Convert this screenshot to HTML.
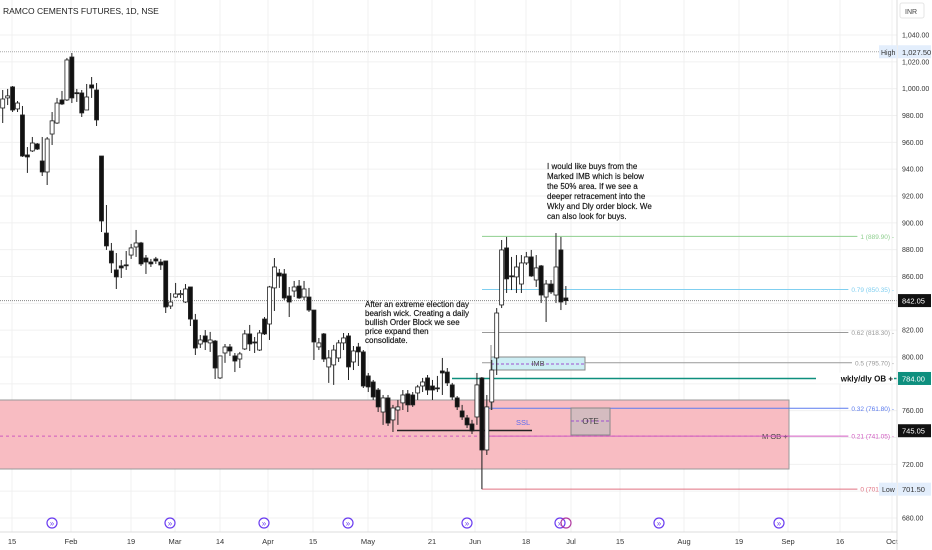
<!DOCTYPE html>
<html><head><meta charset="utf-8"><style>
body{margin:0;background:#fff;width:932px;height:550px;overflow:hidden;font-family:"Liberation Sans",sans-serif}
svg{display:block}
</style></head><body>
<svg id="chart" width="932" height="550" xmlns="http://www.w3.org/2000/svg" font-family="Liberation Sans, sans-serif"></svg>
<script>
// ---- data ----
const opens=[985.6,993.1,1001.3,984.9,980.4,950.6,953.6,958.8,946.1,937.9,966.2,974.4,991.6,991.6,1023.6,997,996.8,984.1,1002.8,999.0,949.8,892.4,879.0,864.9,867.9,868.7,876.0,882.0,885.0,873.8,870.8,873.1,870.8,871.6,838.0,844.7,846.8,841.0,852.2,827.6,809.7,815.7,810.5,811.9,784.4,803.0,807.5,800.8,798.5,806.0,817.2,811.2,805.2,828.3,824.6,851.5,862.6,861.9,845.5,849.2,852.9,844.7,844.7,835.0,807.5,817.2,792.6,794.1,799.3,810.5,815.7,796.3,807.5,803.8,785.9,781.4,775.4,759.0,769.5,753.1,760.5,765.8,772.5,771.7,773.2,778.4,784.4,778.4,777.0,789.6,788.8,779.2,769.5,759.8,754.6,750.1,755.3,784.4,730.7,766.5,799.3,838.8,881.3,860.5,859.7,854.4,870.1,874.6,857.4,867.9,844.7,854.4,846.2,879.8,844.0];
const highs=[999.0,999.8,1002.0,990.8,987.1,956.5,964.0,959.5,964.0,964.0,982.6,993.1,998.3,1022.9,1026.6,999.8,999.0,1003.5,1008.7,1004.2,949.8,913.3,885.0,877.5,872.3,879.0,884.3,894.7,885.8,876.0,873.1,874.6,873.1,871.6,847.7,855.2,849.9,854.4,852.2,832.1,816.4,820.1,818.7,812.7,800.8,809.7,809.7,803.0,803.8,820.1,823.9,814.9,820.1,829.8,853.0,873.8,865.6,865.6,852.2,856.7,857.4,856.7,851.5,835.0,814.2,817.9,805.2,809.0,812.7,817.9,817.9,808.2,810.5,805.2,788.1,782.9,776.9,771.7,771.7,764.3,768.0,775.4,775.4,773.9,779.2,784.4,786.6,782.9,785.9,799.3,791.8,780.7,770.9,764.3,756.8,753.1,788.1,785.1,771.7,797.8,836.5,887.2,889.5,874.6,876.0,876.0,878.3,879.8,876.0,868.6,857.4,857.4,892.4,889.5,852.9];
const lows=[974.4,987.8,982.6,982.6,949.1,937.2,952.8,954.3,934.9,928.2,958.0,973.7,987.8,990.8,989.3,990.1,978.9,984.1,993.1,972.2,893.2,879.8,862.6,850.7,858.9,864.9,873.1,874.6,867.9,861.9,867.1,869.4,864.9,832.8,835.8,844.0,844.0,840.3,823.1,801.5,806.7,805.2,803.8,783.6,783.6,795.6,800.8,788.8,791.8,805.2,804.5,803.0,804.5,816.4,812.7,834.3,851.5,842.5,829.8,844.7,843.3,842.5,833.6,797.8,805.2,796.3,780.7,779.2,796.3,805.2,782.9,790.3,793.3,776.9,773.9,768.0,759.0,749.4,748.6,744.1,749.4,760.5,759.0,762.8,768.0,773.9,771.7,768.0,773.9,771.7,778.4,768.0,760.5,753.1,747.1,742.6,749.4,701.5,727.0,760.5,786.6,836.5,847.7,849.9,847.7,847.7,868.6,859.7,852.2,840.3,826.1,847.0,840.3,835.0,838.8];
const closes=[992.3,994.6,984.1,989.3,949.8,949.1,959.5,955.0,937.9,962.5,976.0,989.3,988.6,1021.4,993.1,996.8,981.9,993.8,1000.5,976.7,901.4,882.8,870.1,859.7,866.4,868.6,881.3,885.0,869.4,870.8,869.4,871.6,868.6,837.3,841.0,847.0,847.2,850.7,828.3,806.7,812.7,811.2,812.7,791.8,800.8,807.5,804.5,797.0,802.3,817.2,809.7,811.0,817.9,817.2,852.2,867.1,860.4,844.0,841.0,852.2,844.0,850.7,835.0,811.2,810.5,798.5,799.3,805.2,810.5,814.2,792.6,804.5,803.8,778.4,777.7,770.2,762.8,769.5,750.8,762.0,762.8,771.7,764.3,764.3,777.7,781.4,775.4,775.4,776.9,788.1,780.7,770.2,762.8,755.3,749.4,744.9,779.2,730.7,762.8,790.3,832.8,879.8,858.2,860.4,867.1,870.1,874.6,860.4,866.4,846.2,854.4,848.5,867.1,841.0,842.0];
const yTicks=[1040,1020,1000,980,960,940,920,900,880,860,820,800,760,720,680];
const xLabels=["15","Feb","19","Mar","14","Apr","15","May","21","Jun","18","Jul","15","Aug","19","Sep","16","Oct"];
const xLabelPos=[12,71,131,175,220,268,313,368,432,475,526,571,620,684,739,788,840,892];
const fibLevels=[889.90,850.35,818.30,795.70,761.80,741.05,701.50];
const fibRatios=["1","0.79","0.62","0.5","0.32","0.21","0"];
const fibColors=["#8fcf8f","#80cff0","#999","#999","#5b7bef","#d05ac0","#e07080"];

// ---- scales ----
const Y=v=>35+(1040-v)*1.3417;
const X=i=>2.7+4.94*i;
const NS="http://www.w3.org/2000/svg";
const svg=document.getElementById('chart');
function el(tag,attrs,parent){const e=document.createElementNS(NS,tag);for(const k in attrs)e.setAttribute(k,attrs[k]);(parent||svg).appendChild(e);return e;}
function txt(s,attrs,parent){const e=el('text',attrs,parent);e.textContent=s;return e;}

// grid
const grid=el('g',{});


for(let v=1040;v>=680;v-=20){el('line',{x1:0,x2:897,y1:Y(v),y2:Y(v),stroke:'#f0f0f0','stroke-width':1},grid);}
xLabelPos.forEach(x=>el('line',{x1:x,x2:x,y1:0,y2:532,stroke:'#f0f0f0','stroke-width':1},grid));

// title
const t=txt('RAMCO CEMENTS FUTURES, 1D, NSE',{x:3,y:14,'font-size':8.5,fill:'#222'});



// pink M OB zone
const zone=el('rect',{x:-1,y:400,width:790,height:69,fill:'#f8bcc2',stroke:'#999','stroke-width':1});


el('line',{x1:0,x2:789,y1:Y(741.05),y2:Y(741.05),stroke:'#d05ac0','stroke-dasharray':'3,3','stroke-width':1});
const mob=txt('M OB +',{x:762,y:Y(741.05)+3,'font-size':7.5,fill:'#444'});



// high / current lines
el('line',{x1:0,x2:897,y1:Y(1027.5),y2:Y(1027.5),stroke:'#aaa','stroke-dasharray':'1,1'});
el('line',{x1:0,x2:897,y1:Y(842.05),y2:Y(842.05),stroke:'#888','stroke-dasharray':'1,1'});

// fib lines
const fib=el('g',{});


fibLevels.forEach((v,k)=>{
  const y=Y(v);
  const lb=txt(fibRatios[k]+' ('+v.toFixed(2)+') -',{x:894,y:y+2.5,'font-size':6.5,fill:fibColors[k],'text-anchor':'end'},fib);
  
  
  let w=48;
  try{w=lb.getComputedTextLength();}catch(e){}
  const ln=el('line',{x1:482,x2:894-w-3,y1:y,y2:y,stroke:fibColors[k],'stroke-width':1},fib);
  
  
});
el('line',{x1:482,x2:482,y1:430,y2:489,stroke:'#888','stroke-width':1});

// IMB box
const imb=el('rect',{x:491,y:357,width:94,height:13,fill:'#cdeef4',stroke:'#888','stroke-width':1});


el('line',{x1:491,x2:585,y1:364,y2:364,stroke:'#a050d0','stroke-dasharray':'3,2'});
const imbT=txt('IMB',{x:538,y:366,'font-size':7.5,fill:'#555','text-anchor':'middle'});


el('line',{x1:491,x2:491,y1:345,y2:410,stroke:'#888'});

// OTE box
const ote=el('rect',{x:571,y:408,width:39,height:27,fill:'#d4bcc0',stroke:'#888','stroke-width':1});


el('line',{x1:571,x2:610,y1:421,y2:421,stroke:'#a050d0','stroke-dasharray':'3,2'});
const oteT=txt('OTE',{x:590.5,y:424,'font-size':8,fill:'#444','text-anchor':'middle'});



// wkly/dly OB line
const ob=el('line',{x1:452,x2:897,y1:Y(784),y2:Y(784),stroke:'#0e8f7e','stroke-width':1.5});


el('rect',{x:816,y:Y(784)-6,width:78,height:11,fill:'#fff'});
const obT=txt('wkly/dly OB +',{x:893,y:Y(784)+3,'font-size':8,'font-weight':'bold',fill:'#111','text-anchor':'end'});



// SSL line
const ssl=el('line',{x1:397,x2:532,y1:430.5,y2:430.5,stroke:'#222','stroke-width':1.6});


const sslT=txt('SSL',{x:516,y:425,'font-size':7.5,fill:'#5b6bef'});



// candles
const cg=el('g',{});


opens.forEach((o,i)=>{
  const c=closes[i],x=X(i);
  const g=el('g',{},cg);
  
  
  el('line',{x1:x,x2:x,y1:Y(highs[i]),y2:Y(lows[i]),stroke:'#222','stroke-width':1},g);
  const top=Y(Math.max(o,c)),bot=Y(Math.min(o,c));
  el('rect',{x:x-2,y:top,width:4,height:Math.max(1,bot-top),fill:c>=o?'#fff':'#111',stroke:'#222','stroke-width':0.8},g);
});

// annotations
function multi(lines,x,y,lh,name){
  const g=el('g',{});
  
  
  lines.forEach((s,k)=>txt(s,{x:x,y:y+k*lh,'font-size':8,fill:'#111','stroke':'#111','stroke-width':0.15},g));
}
multi(["After an extreme election day","bearish wick. Creating a daily","bullish Order Block we see","price expand then","consolidate."],365,307,9,'election-note');
multi(["I would like buys from the","Marked IMB which is below","the 50% area. If we see a","deeper retracement into the","Wkly and Dly order block. We","can also look for buys."],547,169,10,'buy-plan-note');

// event icons
const iconXs=[52,170,264,348,467,560,659,779];
iconXs.forEach(x=>{
  const g=el('g',{});
  
  
  el('circle',{cx:x,cy:523,r:5,fill:'#fff',stroke:'#6a3cf0','stroke-width':1.2},g);
  txt('»',{x:x,y:526,'font-size':8,fill:'#6a3cf0','text-anchor':'middle'},g);
});
el('circle',{cx:566,cy:523,r:5,fill:'none',stroke:'#b03aa0','stroke-width':1.2});

// x axis
el('line',{x1:0,x2:897,y1:532,y2:532,stroke:'#ddd'});
xLabels.forEach((s,k)=>{
  const l=txt(s,{x:xLabelPos[k],y:544,'font-size':7.5,fill:'#333','text-anchor':'middle'});
  
  
});

// price axis
el('line',{x1:897,x2:897,y1:0,y2:550,stroke:'#ddd'});
const inr=el('rect',{x:900,y:3,width:24,height:15,rx:2,fill:'#fff',stroke:'#e5e5e5'});


txt('INR',{x:905,y:14,'font-size':7,fill:'#444'});
yTicks.forEach(v=>{
  const l=txt(v.toLocaleString('en-US',{minimumFractionDigits:2}),{x:902,y:Y(v)+2.5,'font-size':7,fill:'#333'});
  
  
});
function tag(v,label,bg,fg,name){
  const g=el('g',{});
  
  
  el('rect',{x:898,y:Y(v)-6.5,width:33,height:13,fill:bg},g);
  txt(label,{x:902,y:Y(v)+3,'font-size':7.5,fill:fg},g);
}
tag(1027.5,'1,027.50','#e3eefc','#333','high-price-tag');
tag(842.05,'842.05','#111','#fff','last-price-tag');
tag(784,'784.00','#0e8f7e','#fff','ob-price-tag');
tag(745.05,'745.05','#111','#fff','mob-price-tag');
tag(701.5,'701.50','#e3eefc','#333','low-price-tag');
el('rect',{x:879,y:Y(1027.5)-6.5,width:18,height:13,fill:'#e3eefc'});
txt('High',{x:881,y:Y(1027.5)+3,'font-size':7,fill:'#333'});
el('rect',{x:879,y:Y(701.5)-6.5,width:18,height:13,fill:'#e3eefc'});
txt('Low',{x:882,y:Y(701.5)+3,'font-size':7,fill:'#333'});
</script>
</body></html>
